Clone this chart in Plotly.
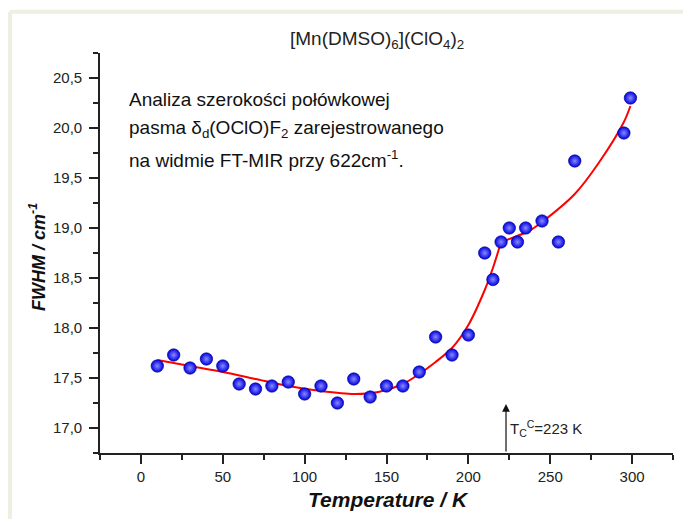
import plotly.graph_objects as go

# Measured data: temperature (K) and FWHM (cm^-1)
temperature = [10, 20, 30, 40, 50, 60, 70, 80, 90, 100, 110, 120, 130, 140, 150,
               160, 170, 180, 190, 200, 210, 215, 220, 225, 230, 235, 245, 255,
               265, 295, 299]
fwhm = [17.62, 17.73, 17.60, 17.69, 17.62, 17.44, 17.39, 17.42, 17.46, 17.34,
        17.42, 17.25, 17.49, 17.31, 17.42, 17.42, 17.56, 17.91, 17.73, 17.93,
        18.75, 18.485, 18.86, 19.00, 18.86, 19.00, 19.07, 18.86, 19.67, 19.95,
        20.30]

# Fit curve (two branches)
fit_low_t = [10, 30, 50, 70, 90, 110, 130, 145, 160, 170, 180, 190, 200, 210, 215, 220]
fit_low_y = [17.68, 17.62, 17.56, 17.49, 17.42, 17.37, 17.34, 17.36, 17.44, 17.54,
             17.66, 17.80, 18.03, 18.38, 18.60, 18.86]
fit_high_t = [220, 237, 245, 265, 280, 295, 299]
fit_high_y = [18.86, 18.97, 19.06, 19.34, 19.66, 20.06, 20.22]

tc_value = 223
x_ticks = [0, 50, 100, 150, 200, 250, 300]
y_ticks = [17.0, 17.5, 18.0, 18.5, 19.0, 19.5, 20.0, 20.5]

FONT = "Arial, Liberation Sans, sans-serif"

fig = go.Figure()
fig.add_trace(go.Scatter(x=fit_low_t, y=fit_low_y, mode="lines",
                         line=dict(color="#ff0000", width=2, shape="spline", smoothing=0.8),
                         showlegend=False, hoverinfo="skip"))
fig.add_trace(go.Scatter(x=fit_high_t, y=fit_high_y, mode="lines",
                         line=dict(color="#ff0000", width=2, shape="spline", smoothing=0.8),
                         showlegend=False, hoverinfo="skip"))
fig.add_trace(go.Scatter(x=temperature, y=fwhm, mode="markers",
                         marker=dict(size=12.5, color="#0000e0",
                                     gradient=dict(type="radial", color="#8a8aff"),
                                     line=dict(color="#000090", width=0.6)),
                         showlegend=False))

axis_common = dict(showline=True, linecolor="#222", linewidth=1.6,
                   ticks="outside", ticklen=9, tickwidth=1.6, tickcolor="#222",
                   showgrid=False, zeroline=False,
                   tickfont=dict(family=FONT, size=15, color="#222"),
                   minor=dict(ticks="outside", ticklen=5, tickwidth=1.6, tickcolor="#222"))

fig.update_xaxes(range=[-25, 325], tickvals=x_ticks, minor_dtick=25, minor_tick0=0,
                 **axis_common)
fig.update_yaxes(range=[16.75, 20.75], tickvals=y_ticks, tickformat=".1f",
                 minor_dtick=0.25, minor_tick0=0, ticklabelstandoff=4, **axis_common)

# Tc arrow
fig.add_annotation(x=tc_value, y=17.24, ax=tc_value, ay=16.75, xref="x", yref="y",
                   axref="x", ayref="y", showarrow=True, arrowhead=2, arrowsize=1.3,
                   arrowwidth=1.2, arrowcolor="#111", text="")
fig.add_annotation(x=tc_value + 1.0, y=17.0, xref="x", yref="y", xanchor="left",
                   yanchor="middle", showarrow=False,
                   text="T<sub>C</sub><sup>C</sup>=223 K",
                   font=dict(family=FONT, size=15, color="#222"))

# Title
fig.add_annotation(x=(377 - 100) / 572.7, y=(453.3 - 40) / 400, xref="paper", yref="paper",
                   showarrow=False, xanchor="center", yanchor="middle",
                   text="[Mn(DMSO)<sub>6</sub>](ClO<sub>4</sub>)<sub>2</sub>",
                   font=dict(family=FONT, size=19, color="#222"))

# Description text block
lines = ["Analiza szerokości połówkowej",
         "pasma δ<sub>d</sub>(OClO)F<sub>2</sub> zarejestrowanego",
         "na widmie FT-MIR przy 622cm<sup>-1</sup>."]
line_y = [20.29, 19.99, 19.69]
for txt, yy in zip(lines, line_y):
    fig.add_annotation(x=(127 - 100) / 572.7, y=yy, xref="paper", yref="y",
                       xanchor="left", yanchor="middle", showarrow=False, text=txt,
                       font=dict(family=FONT, size=19, color="#111"))

# Axis titles
fig.add_annotation(x=(37 - 100) / 572.7, y=0.49, xref="paper", yref="paper",
                   textangle=-90, showarrow=False, xanchor="center", yanchor="middle",
                   text="<b><i>FWHM / cm<sup>-1</sup></i></b>",
                   font=dict(family=FONT, size=18, color="#111"))
fig.add_annotation(x=(388 - 100) / 572.7, y=-(500 - 453.3) / 400, xref="paper", yref="paper",
                   showarrow=False, xanchor="center", yanchor="middle",
                   text="<b><i>Temperature / K</i></b>",
                   font=dict(family=FONT, size=21, color="#111"))

# Light outer frame: only the left and top edges are visible in the reference
frame_x0 = (10 - 100) / 572.7
frame_y1 = (453.3 - 12) / 400
fig.add_shape(type="line", xref="paper", yref="paper",
              x0=frame_x0, x1=frame_x0, y0=-(560 - 453.3) / 400, y1=frame_y1,
              line=dict(color="#efeee3", width=4), layer="below")
fig.add_shape(type="line", xref="paper", yref="paper",
              x0=frame_x0, x1=(760 - 100) / 572.7, y0=frame_y1, y1=frame_y1,
              line=dict(color="#efeee3", width=4), layer="below")

# Page body has an 8px default margin: size figure so it fits the window without scrolling
fig.update_layout(width=683, height=511,
                  margin=dict(l=92, r=18, t=45, b=66),
                  paper_bgcolor="#ffffff", plot_bgcolor="#ffffff",
                  separators=", ", showlegend=False,
                  font=dict(family=FONT))

fig.write_html("out.html")
